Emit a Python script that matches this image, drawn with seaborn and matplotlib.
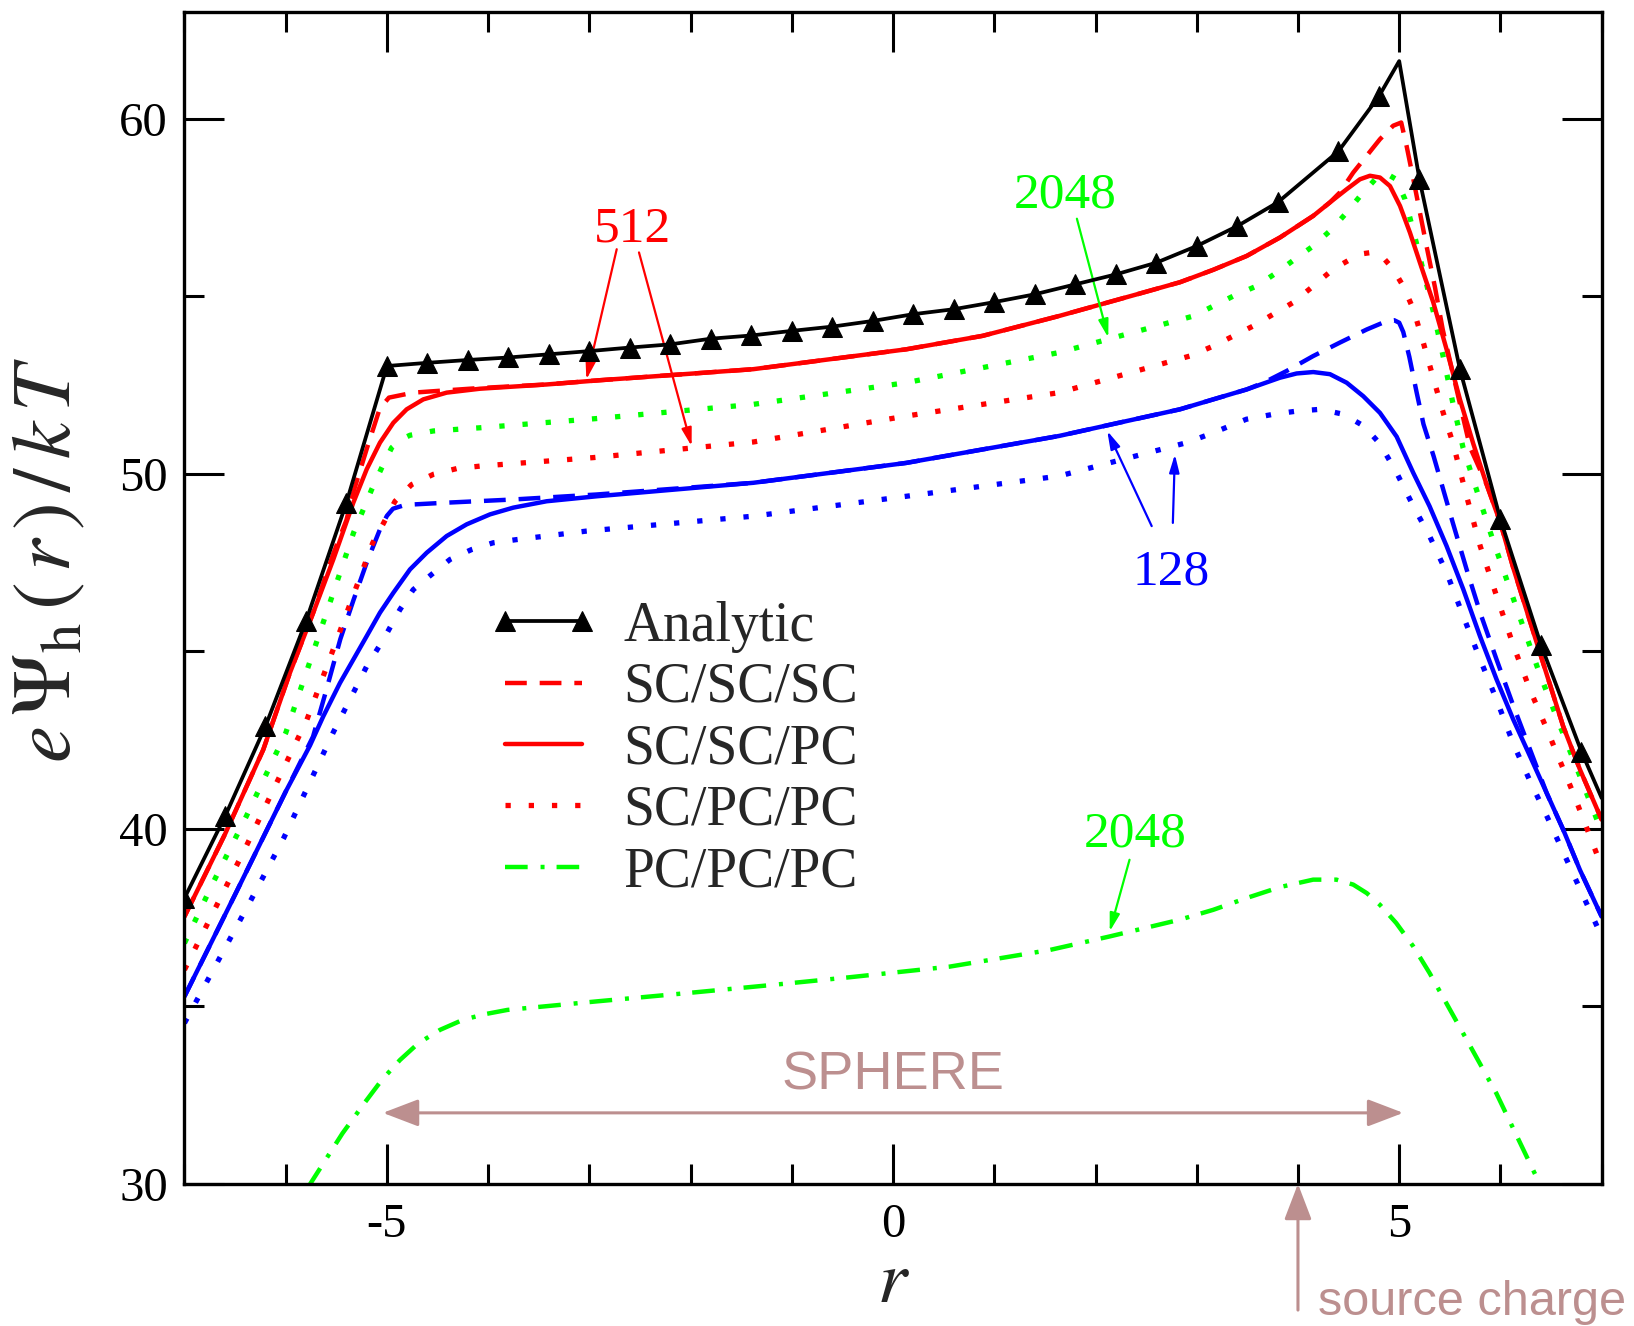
import matplotlib
matplotlib.use("Agg")
import matplotlib.pyplot as plt
from matplotlib.ticker import MultipleLocator
from matplotlib.lines import Line2D
from matplotlib.legend_handler import HandlerLine2D
import seaborn as sns

# ---------------- data: r and e*Psi_h/kT ----------------
r_analytic = [-7.0, -6.6, -6.2, -5.8, -5.4, -5.0, -4.6, -4.2, -3.8, -3.4, -3.0,
              -2.6, -2.2, -1.8, -1.4, -1.0, -0.6, -0.2, 0.2, 0.6, 1.0, 1.4, 1.8,
              2.2, 2.6, 3.0, 3.4, 3.8, 4.4, 4.8, 5.0, 5.2, 5.6, 6.0, 6.4, 6.8, 7.0]
psi_analytic = [38.05, 40.35, 42.89, 45.85, 49.19, 53.04, 53.13, 53.21, 53.28,
                53.37, 53.46, 53.56, 53.65, 53.81, 53.90, 54.03, 54.15, 54.31,
                54.50, 54.64, 54.84, 55.06, 55.34, 55.62, 55.95, 56.42, 56.98,
                57.65, 59.09, 60.64, 61.63, 58.30, 52.95, 48.72, 45.19, 42.18, 40.87]
analytic_marker_idx = [i for i, r in enumerate(r_analytic) if r not in (5.0, 7.0)]

# 512 grid (red)
r_512_scscpc = [-7.0, -6.6, -6.222, -5.958, -5.728, -5.53, -5.332, -5.2, -5.069,
                -4.937, -4.805, -4.641, -4.41, -4.081, -3.422, -2.895, -1.383, 0.129,
                0.885, 1.641, 2.397, 2.834, 3.163, 3.493, 3.822, 4.151, 4.316, 4.481,
                4.612, 4.711, 4.81, 4.909, 5.008, 5.106, 5.205, 5.337, 5.468, 5.6,
                5.732, 5.864, 6.0, 6.127, 6.39, 6.62, 6.786, 7.0]
psi_512_scscpc = [37.53, 39.85, 42.23, 44.40, 46.09, 47.59, 49.19, 50.13, 50.88,
                  51.44, 51.82, 52.10, 52.29, 52.40, 52.52, 52.64, 52.95, 53.51,
                  53.89, 54.45, 55.05, 55.40, 55.75, 56.14, 56.66, 57.27, 57.65, 58.02,
                  58.30, 58.40, 58.35, 58.11, 57.55, 56.80, 55.95, 54.83, 53.51, 52.10,
                  50.85, 49.70, 48.62, 47.35, 44.96, 42.89, 41.67, 40.26]

r_512_scscsc = [-7.0, -6.6, -6.222, -5.958, -5.728, -5.53, -5.4, -5.33, -5.2, -5.07,
                -4.98, -4.74, -4.54, -4.081, -3.422, -2.895, -1.383, 0.129, 0.885,
                1.641, 2.397, 2.834, 3.163, 3.493, 3.822, 4.151, 4.316, 4.414, 4.546,
                4.678, 4.81, 4.941, 5.02, 5.073, 5.14, 5.205, 5.27, 5.354, 5.43,
                5.567, 5.70, 5.864, 6.0, 6.127, 6.39, 6.62, 6.786, 7.0]
psi_512_scscsc = [37.53, 39.85, 42.23, 44.40, 46.09, 47.75, 48.7, 49.5, 50.7, 51.85,
                  52.15, 52.29, 52.33, 52.42, 52.52, 52.64, 52.95, 53.51, 53.89,
                  54.45, 55.05, 55.40, 55.75, 56.14, 56.66, 57.27, 57.65, 57.93, 58.49,
                  58.96, 59.43, 59.81, 59.90, 59.24, 58.30, 57.36, 56.42, 55.25, 54.07,
                  52.38, 50.75, 49.70, 48.62, 47.35, 44.96, 42.89, 41.67, 40.26]

r_512_scpcpc = [-7.0, -6.39, -5.79, -5.53, -5.33, -5.14, -5.036, -4.92, -4.756, -4.54,
                -4.311, -4.08, -2.96, -1.38, 0.13, 1.64, 2.93, 3.163, 3.56, 3.953,
                4.15, 4.349, 4.52, 4.63, 4.73, 4.84, 4.94, 5.04, 5.14, 5.238, 5.34,
                5.435, 5.53, 5.666, 5.8, 5.962, 6.13, 6.292, 6.46, 6.719, 7.0]
psi_512_scpcpc = [36.03, 39.51, 43.08, 45.06, 46.6, 48.06, 48.6, 49.23, 49.70, 49.99,
                  50.15, 50.22, 50.46, 50.90, 51.63, 52.29, 53.32, 53.60, 54.17, 54.83,
                  55.29, 55.77, 56.05, 56.20, 56.24, 56.10, 55.77, 55.29, 54.64, 53.70,
                  52.67, 51.72, 50.88, 49.37, 47.97, 46.56, 45.15, 43.92, 42.80, 41.01,
                  38.94]

# 2048 grid (green)
r_2048_scpcpc = [-7.0, -6.72, -6.39, -6.0, -5.63, -5.33, -5.151, -5.052, -4.953, -4.86,
                 -4.772, -4.542, -4.081, -2.928, -1.38, 0.13, 1.64, 2.97, 3.361, 3.59,
                 3.789, 3.97, 4.15, 4.333, 4.48, 4.629, 4.78, 4.88, 4.97, 5.057, 5.14,
                 5.34, 5.435, 5.53, 5.63, 5.798, 5.93, 6.23, 6.39, 6.59, 6.786, 7.0]
psi_2048_scpcpc = [36.78, 38.47, 40.35, 42.7, 45.81, 48.34, 49.56, 50.17, 50.74, 50.97,
                   51.09, 51.21, 51.30, 51.56, 51.96, 52.57, 53.42, 54.45, 55.01, 55.29,
                   55.67, 56.05, 56.42, 56.89, 57.36, 57.88, 58.35, 58.45, 58.30, 57.74,
                   56.85, 54.54, 53.30, 52.00, 50.75, 49.25, 48.10, 45.65, 44.35, 42.89,
                   41.48, 39.92]

r_2048_pcpcpc = [-5.78, -5.44, -5.224, -5.05, -4.871, -4.69, -4.474, -4.25, -4.033,
                 -3.81, -2.93, -2.05, -1.17, -0.43, 0.56, 1.55, 2.14, 2.83, 3.163, 3.49,
                 3.822, 4.15, 4.38, 4.546, 4.68, 4.81, 4.97, 5.139, 5.30, 5.63, 5.96,
                 6.37]
psi_2048_pcpcpc = [29.9, 31.42, 32.27, 32.93, 33.49, 33.96, 34.34, 34.62, 34.78,
                   34.90, 35.14, 35.37, 35.61, 35.82, 36.12, 36.59, 36.97, 37.44, 37.72,
                   38.05, 38.36, 38.57, 38.57, 38.43, 38.19, 37.86, 37.35, 36.69, 35.94,
                   34.25, 32.55, 30.11]

# 128 grid (blue)
r_128_scscpc = [-7.0, -6.5, -6.0, -5.76, -5.629, -5.464, -5.332, -5.2, -5.069, -4.937,
                -4.772, -4.607, -4.41, -4.212, -3.982, -3.752, -3.422, -2.928, -1.38,
                0.13, 1.64, 2.834, 3.163, 3.493, 3.822, 3.987, 4.151, 4.316, 4.481,
                4.645, 4.81, 4.975, 5.139, 5.3, 5.468, 5.633, 5.798, 5.962, 6.127,
                6.292, 6.457, 6.62, 6.786, 7.0]
psi_128_scscpc = [35.28, 38.15, 41.05, 42.35, 43.17, 44.11, 44.77, 45.43, 46.09, 46.65,
                  47.31, 47.78, 48.25, 48.58, 48.86, 49.05, 49.23, 49.37, 49.75,
                  50.31, 51.07, 51.82, 52.10, 52.38, 52.71, 52.83, 52.87, 52.81, 52.57,
                  52.19, 51.72, 51.05, 50.03, 49.09, 47.97, 46.75, 45.43, 44.21, 43.08,
                  42.05, 41.01, 39.98, 38.84, 37.53]

r_128_scscsc = [-7.0, -6.5, -6.0, -5.73, -5.6, -5.46, -5.33, -5.2, -5.07, -5.0, -4.94,
                -4.85, -4.74, -4.41, -3.75, -2.93, -1.38, 0.13, 1.64, 2.834, 3.163,
                3.493, 3.66, 3.888, 4.15, 4.414, 4.68, 4.88, 4.95, 5.0, 5.04, 5.1,
                5.172, 5.24, 5.34, 5.53, 5.666, 5.8, 5.962, 6.13, 6.292, 6.457, 6.62,
                6.786, 7.0]
psi_128_scscsc = [35.28, 38.15, 41.05, 42.6, 43.9, 45.35, 46.45, 47.5, 48.43, 48.82,
                  49.02, 49.10, 49.14, 49.19, 49.28, 49.42, 49.75, 50.31, 51.07, 51.82,
                  52.10, 52.38, 52.57, 52.90, 53.32, 53.70, 54.07, 54.31, 54.33, 54.26,
                  54.0, 53.3, 52.3, 51.4, 50.5, 48.62, 47.31, 46.09, 44.77, 43.45,
                  42.24, 41.01, 39.98, 38.84, 37.53]

r_128_scpcpc = [-7.0, -6.35, -6.02, -5.53, -5.2, -5.036, -4.871, -4.74, -4.558, -4.377,
                -4.163, -3.95, -3.718, -3.027, -1.38, 0.13, 1.64, 2.9, 3.163, 3.49,
                3.756, 3.99, 4.22, 4.45, 4.65, 4.81, 4.975, 5.14, 5.3, 5.47, 5.633,
                5.8, 5.962, 6.13, 6.292, 6.46, 7.0]
psi_128_scpcpc = [34.53, 37.96, 39.74, 42.72, 44.58, 45.33, 46.18, 46.74, 47.17, 47.59,
                  47.87, 48.06, 48.15, 48.39, 48.81, 49.37, 49.94, 50.88, 51.16, 51.54,
                  51.68, 51.77, 51.82, 51.68, 51.35, 50.85, 50.03, 49.09, 48.25, 47.21,
                  45.99, 44.77, 43.64, 42.38, 41.35, 40.35, 36.97]

legend_order = ["Analytic", "SC/SC/SC", "SC/SC/PC", "SC/PC/PC", "PC/PC/PC"]

# ---------------- styling ----------------
RED, GREEN, BLUE, BROWN = "#ff0000", "#00ff00", "#0000ff", "#bc8f8f"
DASHED = (0, (4.9, 2.9))
DOTTED = (0, (1.0, 3.4))
DASHDOT = (0, (5.1, 2.9, 0.9, 2.7))

sns.set_style("ticks")
plt.rcParams["font.family"] = ["Liberation Serif", "DejaVu Serif"]
plt.rcParams["mathtext.fontset"] = "stix"
plt.rcParams["axes.unicode_minus"] = False

fig = plt.figure(figsize=(16.34, 13.26), dpi=100)
ax = fig.add_axes([0.1129, 0.1072, 0.8673, 0.8834])


def curve(r, psi, color, ls, lw, label=None, z=2, **kw):
    sns.lineplot(x=r, y=psi, ax=ax, color=color, linestyle=ls, linewidth=lw,
                 sort=False, label=label, zorder=z, legend=False, **kw)


curve(r_128_scpcpc, psi_128_scpcpc, BLUE, DOTTED, 3.8)
curve(r_128_scscsc, psi_128_scscsc, BLUE, DASHED, 3.2)
curve(r_128_scscpc, psi_128_scscpc, BLUE, "-", 3.2)
curve(r_2048_pcpcpc, psi_2048_pcpcpc, GREEN, DASHDOT, 3.2, label="PC/PC/PC")
curve(r_2048_scpcpc, psi_2048_scpcpc, GREEN, DOTTED, 3.8)
curve(r_512_scpcpc, psi_512_scpcpc, RED, DOTTED, 3.8, label="SC/PC/PC")
curve(r_512_scscsc, psi_512_scscsc, RED, DASHED, 3.2, label="SC/SC/SC")
curve(r_512_scscpc, psi_512_scscpc, RED, "-", 3.2, label="SC/SC/PC")
curve(r_analytic, psi_analytic, "black", "-", 2.7, label="Analytic", z=4,
      marker="^", markersize=15, markevery=analytic_marker_idx,
      markerfacecolor="black", markeredgecolor="black")

# ---------------- axes ----------------
ax.set_xlim(-7, 7)
ax.set_ylim(30, 63)
ax.xaxis.set_major_locator(MultipleLocator(5))
ax.xaxis.set_minor_locator(MultipleLocator(1))
ax.yaxis.set_major_locator(MultipleLocator(10))
ax.yaxis.set_minor_locator(MultipleLocator(5))
ax.tick_params(which="both", direction="in", top=True, right=True, width=2.2,
               colors="black", labelsize=35)
ax.tick_params(which="major", length=28.8)
ax.tick_params(which="minor", length=14.4)
ax.tick_params(axis="x", which="major", pad=14)
ax.tick_params(axis="y", which="major", pad=12)
for sp in ax.spines.values():
    sp.set_linewidth(2.4)
    sp.set_color("black")

ax.set_xlabel(r"$r$", fontsize=54, labelpad=2)
ax.set_ylabel(r"$e\,\Psi_{\mathrm{h}}\,(\,r\,)\,/\,k\,T$", fontsize=60)
ax.yaxis.set_label_coords(-0.068, 0.533)

# ---------------- legend ----------------
handles, labels = ax.get_legend_handles_labels()
lookup = dict(zip(labels, handles))
ax.legend([lookup[k] for k in legend_order], legend_order, loc="upper left",
          bbox_to_anchor=(0.2262, 0.498), frameon=False, fontsize=40,
          handlelength=1.39, handletextpad=0.74, labelspacing=0.17, numpoints=2,
          borderpad=0, borderaxespad=0,
          handler_map={Line2D: HandlerLine2D(marker_pad=0)})

# ---------------- annotations ----------------
def pointer(start, tip, color):
    ax.annotate("", xy=tip, xytext=start,
                arrowprops=dict(arrowstyle="-|>,head_length=0.9,head_width=0.25",
                                color=color, lw=1.6, mutation_scale=12,
                                shrinkA=0, shrinkB=0))


ax.text(-2.574, 56.555, "512", color=RED, fontsize=37, ha="center", va="baseline")
pointer((-2.73, 56.33), (-3.03, 52.66), RED)
pointer((-2.51, 56.24), (-1.99, 50.78), RED)

ax.text(1.703, 57.51, "2048", color=GREEN, fontsize=37, ha="center", va="baseline")
pointer((1.816, 57.19), (2.126, 53.84), GREEN)

ax.text(2.745, 46.89, "128", color=BLUE, fontsize=37, ha="center", va="baseline")
pointer((2.555, 48.53), (2.116, 51.21), BLUE)
pointer((2.764, 48.62), (2.784, 50.55), BLUE)

ax.text(2.394, 39.51, "2048", color=GREEN, fontsize=37, ha="center", va="baseline")
pointer((2.336, 39.13), (2.14, 37.11), GREEN)

# sphere extent
ax.annotate("", xy=(5.04, 32.0), xytext=(-5.04, 32.0),
            arrowprops=dict(arrowstyle="<|-|>,head_length=1.1,head_width=0.42",
                            color=BROWN, lw=2.2, mutation_scale=20,
                            shrinkA=0, shrinkB=0))
ax.text(0.0, 32.65, "SPHERE", color=BROWN, fontsize=39, ha="center",
        va="baseline", family=["Liberation Sans", "DejaVu Sans"])

# source charge position
ax.annotate("", xy=(4.0, 30.0), xycoords="data",
            xytext=(4.0, 0.012), textcoords=("data", "figure fraction"),
            arrowprops=dict(arrowstyle="-|>,head_length=1.1,head_width=0.42",
                            color=BROWN, lw=2.2, mutation_scale=20,
                            shrinkA=0, shrinkB=0),
            annotation_clip=False)
fig.text(0.8066, 0.0083, "source charge", color=BROWN, fontsize=35, ha="left",
         va="baseline", family=["Liberation Sans", "DejaVu Sans"])

fig.savefig("out.png", dpi=100)
